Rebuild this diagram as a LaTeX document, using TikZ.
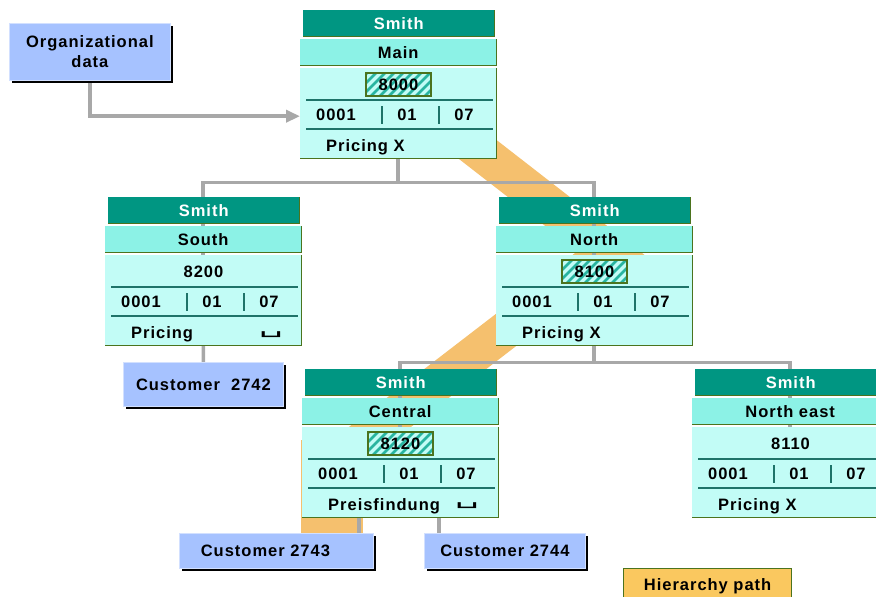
\documentclass[tikz,border=0pt]{standalone}
\usepackage{fontspec}
\setmainfont{Liberation Sans}[LetterSpace=6]
\newfontfamily\dejavu{DejaVu Sans}
\usetikzlibrary{arrows.meta,shadows}
\pgfdeclarelayer{paper}
\pgfdeclarelayer{band}
\pgfdeclarelayer{wires}
\pgfsetlayers{paper,band,wires,main}
\definecolor{smithc}{RGB}{0,150,130}
\definecolor{labc}{RGB}{140,242,230}
\definecolor{bodyc}{RGB}{194,252,246}
\definecolor{edgec}{RGB}{75,115,30}
\definecolor{linec}{RGB}{30,115,105}
\definecolor{stripec}{RGB}{40,180,160}
\definecolor{custc}{RGB}{166,194,255}
\definecolor{bandc}{RGB}{245,192,110}
\definecolor{hierc}{RGB}{250,200,95}
\definecolor{connc}{RGB}{168,168,168}
\tikzset{
 lbl/.style={font=\fontsize{16.5}{20}\selectfont\bfseries, inner sep=0pt},
 bar/.style={lbl, minimum height=26pt, anchor=north west},
 smithbar/.style={bar, fill=smithc, text=white, minimum width=191pt},
 namebar/.style={bar, fill=labc, text=black, minimum width=196pt},
 bodybox/.style={fill=bodyc, minimum width=196pt, minimum height=90pt, inner sep=0pt, anchor=north west},
 rim/.style={draw=edgec, line width=1.2pt},
 sep/.style={draw=linec, line width=1.2pt},
 conn/.style={draw=connc, line width=3.5pt},
 custbox/.style={lbl, fill=custc, draw=custc!50!white, line width=0.8pt, anchor=north west,
   drop shadow={shadow xshift=3pt, shadow yshift=-3pt, fill=black, opacity=1}},
 hierbox/.style={lbl, fill=hierc, draw=edgec, line width=1.2pt, anchor=north west},
 markc/.style={font=\dejavu\fontsize{15}{15}\selectfont, inner sep=0pt},
}
\newcommand\hatchbg{%
 \begin{scope}
 \clip (66,63) rectangle (131,86);
 \fill[bodyc] (66,63) rectangle (131,86);
 \foreach \k in {0,...,11} {\draw[stripec, line width=2.8pt] ({44+\k*9},86) -- ++(23,-23);}
 \end{scope}
 \draw[edgec, line width=1.2pt] (66,63) rectangle (131,86);}
\newcommand\orgunit[7]{%
\begin{scope}[shift={(#2,#3)}]
 \node[smithbar] (#1-s) at (3,0) {Smith};
 \draw[rim] (#1-s.north east) -- (#1-s.south east) -- (#1-s.south west);
 \node[namebar] (#1-l) at (0,29) {#4};
 \draw[rim] (#1-l.north east) -- (#1-l.south east) -- (#1-l.south west);
 \node[bodybox] (#1-b) at (0,58) {};
 \draw[rim] (#1-b.north east) -- (#1-b.south east) -- (#1-b.south west);
 #6
 \node[lbl] (#1-n) at (98.5,75) {#5};
 \draw[sep] (6,90) -- (193,90);
 \draw[sep] (6,119) -- (193,119);
 \draw[sep] (82,96) -- (82,114);
 \draw[sep] (139,96) -- (139,114);
 \node[lbl] (#1-c1) at (36,105) {0001};
 \node[lbl] (#1-c2) at (107,105) {01};
 \node[lbl] (#1-c3) at (164,105) {07};
 \node[lbl, anchor=base west] (#1-p) at (26,141) {#7};
\end{scope}}
\begin{document}
\begin{tikzpicture}[x=1pt,y=-1pt]
\useasboundingbox (0,0) rectangle (876,597);
\begin{pgfonlayer}{paper}
 \fill[white] (0,0) rectangle (876,597);
\end{pgfonlayer}
\clip (0,0) rectangle (876,597);
% org units
\orgunit{main}{300}{10}{Main}{8000}{\hatchbg}{Pricing X}
\orgunit{south}{105}{197}{South}{8200}{}{Pricing}
\orgunit{north}{496}{197}{North}{8100}{\hatchbg}{Pricing X}
\orgunit{central}{302}{369}{Central}{8120}{\hatchbg}{Preisfindung}
\orgunit{ne}{692}{369}{North east}{8110}{}{Pricing X}
\node[markc] (south-m) at (271,335) {\scalebox{2.5}[1.2]{␣}};
\node[markc] (central-m) at (467,506) {\scalebox{2.5}[1.2]{␣}};
% other boxes
\node[custbox, minimum width=161pt, minimum height=57pt, align=center] (org) at (9,23) {Organizational\\data};
\node[custbox, minimum width=160pt, minimum height=44pt] (c2742) at (123,362) {Customer\ \ 2742};
\node[custbox, minimum width=194pt, minimum height=35pt] (c2743) at (179,533) {\hspace*{-22pt}Customer 2743};
\node[custbox, minimum width=161pt, minimum height=35pt] (c2744) at (424,533) {Customer 2744};
\node[hierbox, minimum width=168pt, minimum height=36pt] (hier) at (623,568) {Hierarchy path};
\coordinate (t3) at ([xshift=-15pt]c2743.north east);
\coordinate (t4) at ([xshift=15pt]c2744.north west);
% connectors
\begin{pgfonlayer}{wires}
 \draw[conn] (main-b.south) -- ++(0,24) -| (south-b.center);
 \draw[conn] (main-b.south) -- ++(0,24) -| (north-b.center);
 \draw[conn] (south-b.center) -- (c2742.center);
 \draw[conn] (north-b.south) -- ++(0,17) -| (central-b.center);
 \draw[conn] (north-b.south) -- ++(0,17) -| (ne-b.center);
 \draw[conn] (t3) -- (t3 |- central-b.south);
 \draw[conn] (t4) -- (t4 |- central-b.south);
 \draw[conn, -{Triangle[length=14pt,width=12pt]}] (org.south) |- ([yshift=-3pt]main-b.west);
\end{pgfonlayer}
% hierarchy band
\begin{pgfonlayer}{band}
 \fill[bandc] (383,100) -- (445,100) -- (651,260) -- (589,260) -- cycle;
 \fill[bandc] (592,240) -- (654,240) -- (368,460) -- (306,460) -- cycle;
 \fill[bandc] (301,440) -- (363,440) -- (363,545) -- (301,545) -- cycle;
\end{pgfonlayer}
\end{tikzpicture}
\end{document}
